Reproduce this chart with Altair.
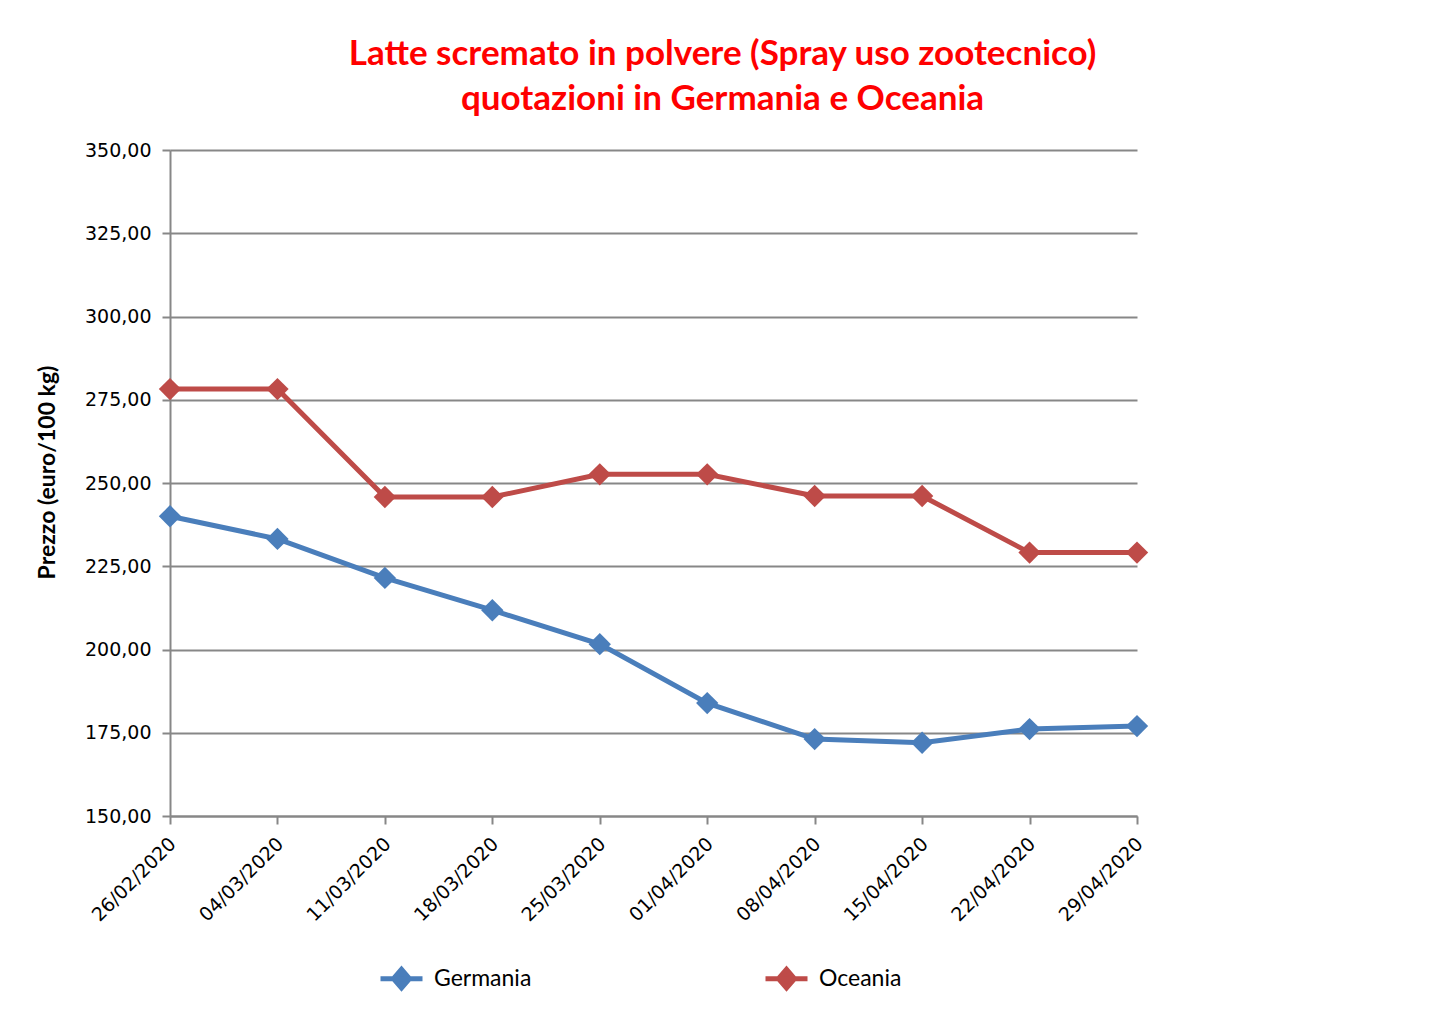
import altair as alt
import pandas as pd

dates = ["26/02/2020", "04/03/2020", "11/03/2020", "18/03/2020", "25/03/2020",
         "01/04/2020", "08/04/2020", "15/04/2020", "22/04/2020", "29/04/2020"]
germania = [240.0, 233.2, 221.5, 211.8, 201.6, 183.9, 173.1, 172.0, 176.1, 177.0]
oceania = [278.2, 278.2, 245.8, 245.8, 252.6, 252.6, 246.1, 246.1, 229.1, 229.1]
series = ["Germania", "Oceania"]
colors = ["#4A7EBB", "#BE4B48"]
y_ticks = [150, 175, 200, 225, 250, 275, 300, 325, 350]
title_lines = ["Latte scremato in polvere (Spray uso zootecnico)",
               "quotazioni in Germania e Oceania"]

rows = []
for d, g, o in zip(dates, germania, oceania):
    rows.append({"data": d, "serie": "Germania", "prezzo": g})
    rows.append({"data": d, "serie": "Oceania", "prezzo": o})
df = pd.DataFrame(rows)

GRAY = "#878787"
TICK_FONT = "DejaVu Sans"

legend = alt.Legend(
    title=None, orient="none", legendX=208, legendY=805, direction="horizontal",
    symbolType="M-1,0H1M-0.38,0L0,-0.44L0.38,0L0,0.44Z",
    symbolSize=1764, symbolStrokeWidth=5, labelFont="Lato", labelFontSize=23,
    labelColor="#000000", labelOffset=9, columnPadding=223, padding=0,
)

stroke_scale = alt.Scale(domain=series, range=colors)

x_enc = alt.X("data:N", sort=dates, title=None,
              scale=alt.Scale(type="point", padding=0),
              axis=alt.Axis(labelAngle=-45, labelFont=TICK_FONT, labelFontSize=19,
                            labelColor="#000000", tickSize=8, tickColor=GRAY,
                            tickWidth=2, domainColor=GRAY, domainWidth=2,
                            grid=False, labelPadding=10, labelOffset=-4))
y_enc = alt.Y("prezzo:Q", title="Prezzo (euro/100 kg)",
              scale=alt.Scale(domain=[150, 350], nice=False, zero=False),
              axis=alt.Axis(values=y_ticks,
                            labelExpr="replace(format(datum.value, '.2f'), '.', ',')",
                            labelFont=TICK_FONT, labelFontSize=19, labelColor="#000000",
                            tickSize=8, tickColor=GRAY, tickWidth=2,
                            domainColor=GRAY, domainWidth=2,
                            gridColor=GRAY, gridWidth=2, labelPadding=11,
                            titleFont="Lato", titleFontSize=23, titleFontWeight="bold",
                            titleColor="#000000", titleX=-123, titleY=322,
                            titleAngle=-90, titleAlign="center", titleBaseline="middle"))

base = alt.Chart(df).encode(x=x_enc, y=y_enc)

lines = base.mark_line(strokeWidth=5).encode(
    stroke=alt.Stroke("serie:N", scale=stroke_scale, legend=legend)
)
points = base.mark_point(shape="diamond", filled=True, size=500, opacity=1,
                         strokeWidth=0).encode(
    fill=alt.Fill("serie:N", scale=alt.Scale(domain=series, range=colors), legend=legend),
    stroke=alt.Stroke("serie:N", scale=stroke_scale, legend=legend),
)

chart = alt.layer(lines, points).properties(
    width=967, height=666,
    title=alt.TitleParams(text=title_lines, color="#FF0000", font="Lato",
                          fontSize=35, fontWeight="bold", anchor="middle",
                          dx=69, offset=24, lineHeight=45),
    autosize=alt.AutoSizeParams(type="none"),
    padding={"left": 162, "top": 142, "right": 308, "bottom": 200},
    background="#FFFFFF",
).configure_view(stroke=None)

chart.save("out.html", embed_options={"renderer": "svg", "actions": False})
